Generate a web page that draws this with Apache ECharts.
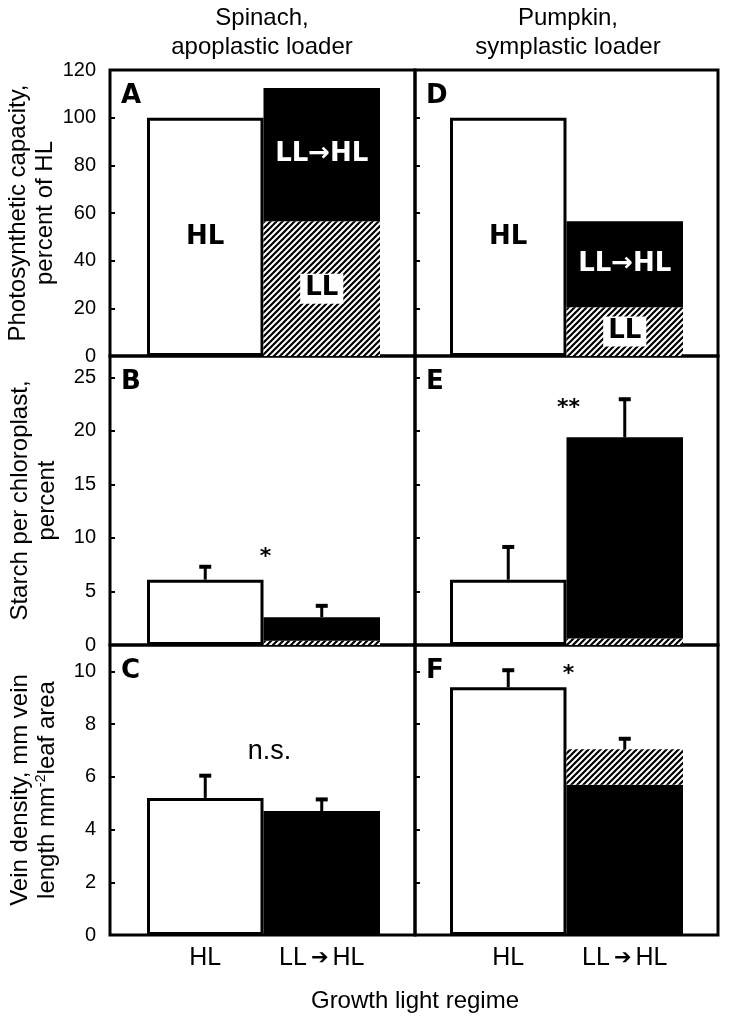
<!DOCTYPE html>
<html>
<head>
<meta charset="utf-8">
<script src="https://cdn.jsdelivr.net/npm/echarts@6/dist/echarts.min.js"></script>
<style>
  html, body { margin: 0; padding: 0; background: #fff; }
  #chart { width: 729px; height: 1020px; }
</style>
</head>
<body>
<div id="chart"></div>
<script>
// panels in order A, B, C (spinach) then D, E, F (pumpkin)
const categories = ['HL', 'LL→HL'];
const panelLetters = ['A', 'B', 'C', 'D', 'E', 'F'];
const hlValues = [100, 6.1, 5.2, 100, 6.1, 9.4];
const hlErrors = [null, 7.45, 6.1, null, 9.3, 10.1];
const llBase = [56.5, 0.4, 0, 20.5, 0.6, 0];          // hatched part at the base of LL→HL bar
const blackTop = [112.5, 2.6, 4.7, 56.5, 19.4, 5.7];  // top of the black part
const shiftTotals = [112.5, 2.6, 4.7, 56.5, 19.4, 7.05]; // top of the whole LL→HL bar
const shiftErrors = [null, 3.8, 5.2, null, 23.1, 7.5];
const sigLabels = ['', '*', 'n.s.', '', '**', '*'];
const sigValues = [null, 8.2, 6.95, null, 22.1, 9.9];
const yMax = [120, 27, 11];
const yInterval = [20, 5, 2];
const yTitles = [
  'Photosynthetic capacity,\npercent of HL',
  'Starch per chloroplast,\npercent',
  'Vein density, mm vein\nlength mm{sup|-2}leaf area'
];
const columnTitles = ['Spinach,\napoplastic loader', 'Pumpkin,\nsymplastic loader'];
const xTitle = 'Growth light regime';

// layout (px)
const colLeft = [110, 415];
const colWidth = [305, 303];
const barInset = [37, 35];
const barAreaWidth = 233;
const rowTop = [70, 356, 645];
const rowHeight = [286, 289, 290];

const SANS = '"Liberation Sans", Arial, sans-serif';
const BOLD = '"DejaVu Sans", Verdana, sans-serif';

function makeHatch() {
  const s = 6;
  const c = document.createElement('canvas');
  c.width = s;
  c.height = s;
  const ctx = c.getContext('2d');
  ctx.fillStyle = '#fff';
  ctx.fillRect(0, 0, s, s);
  ctx.strokeStyle = '#000';
  ctx.lineWidth = 2.2;
  ctx.beginPath();
  ctx.moveTo(0, s); ctx.lineTo(s, 0);
  ctx.moveTo(-s / 2, s / 2); ctx.lineTo(s / 2, -s / 2);
  ctx.moveTo(s / 2, s * 1.5); ctx.lineTo(s * 1.5, s / 2);
  ctx.stroke();
  return c;
}
const hatch = { image: makeHatch(), repeat: 'repeat' };

const grid = [];
const xAxis = [];
const yAxis = [];
const series = [];
const title = [];

// frames
for (let i = 0; i < 6; i++) {
  const col = Math.floor(i / 3);
  const row = i % 3;
  grid.push({
    left: colLeft[col], top: rowTop[row], width: colWidth[col], height: rowHeight[row],
    show: true, borderColor: '#000', borderWidth: 3, backgroundColor: 'transparent',
    outerBoundsMode: 'none'
  });
  xAxis.push({ gridIndex: i, type: 'value', show: false });
  yAxis.push({ gridIndex: i, type: 'value', show: false });
}

// bar panels
for (let i = 0; i < 6; i++) {
  const col = Math.floor(i / 3);
  const row = i % 3;
  const g = 6 + i;
  const top = row === 0;

  grid.push({
    left: colLeft[col] + barInset[col], top: rowTop[row], width: barAreaWidth, height: rowHeight[row],
    outerBoundsMode: 'none'
  });
  xAxis.push({
    gridIndex: g, type: 'category', data: categories,
    axisLine: { show: false }, axisTick: { show: false },
    axisLabel: {
      show: row === 2, interval: 0, hideOverlap: false,
      margin: 11, fontSize: 25, color: '#000', fontFamily: SANS,
      formatter: (v) => v.replace('→', '{arr|➔}'),
      rich: { arr: { fontFamily: BOLD, fontWeight: 'bold', fontSize: 21, color: '#000', padding: [0, 4] } }
    }
  });
  yAxis.push({
    gridIndex: g, type: 'value', min: 0, max: yMax[row], interval: yInterval[row],
    offset: barInset[col],
    axisLine: { show: false },
    axisTick: { show: true, inside: true, length: 5, lineStyle: { color: '#000', width: 2 } },
    splitLine: { show: false },
    axisLabel: {
      show: col === 0, showMaxLabel: yMax[row] % yInterval[row] === 0,
      margin: 14, fontSize: 20, color: '#000', fontFamily: SANS
    },
    name: col === 0 ? yTitles[row] : '',
    nameLocation: 'middle', nameGap: 49,
    nameTextStyle: {
      fontSize: 24, color: '#000', fontFamily: SANS, lineHeight: 27,
      rich: { sup: { fontSize: 14, color: '#000', fontFamily: SANS, verticalAlign: 'top', lineHeight: 14 } }
    }
  });

  const common = {
    type: 'bar', xAxisIndex: g, yAxisIndex: g, stack: 'p' + i,
    barCategoryGap: '0%', animation: false, silent: true
  };
  const inLabel = (text, color, extra) => Object.assign({
    show: top, position: 'inside', formatter: text, color: color,
    fontFamily: BOLD, fontWeight: 'bold', fontSize: 26
  }, extra || {});

  series.push(Object.assign({}, common, {
    name: 'HL',
    data: [hlValues[i], '-'],
    itemStyle: { color: '#fff', borderColor: '#000', borderWidth: 3 },
    label: inLabel('HL', '#000')
  }));
  series.push(Object.assign({}, common, {
    name: 'LL',
    data: ['-', llBase[i]],
    itemStyle: { color: hatch },
    label: inLabel('LL', '#000', { backgroundColor: '#fff', padding: [3, 5, 1, 5] })
  }));
  series.push(Object.assign({}, common, {
    name: 'LL→HL',
    data: ['-', blackTop[i] - llBase[i]],
    itemStyle: { color: '#000' },
    label: inLabel('LL→HL', '#fff')
  }));
  series.push(Object.assign({}, common, {
    name: 'LL (upper)',
    data: ['-', shiftTotals[i] - blackTop[i]],
    itemStyle: { color: hatch }
  }));

  const errData = [];
  if (hlErrors[i] != null) errData.push([0, hlValues[i], hlErrors[i]]);
  if (shiftErrors[i] != null) errData.push([1, shiftTotals[i], shiftErrors[i]]);
  if (errData.length) {
    series.push({
      type: 'custom', xAxisIndex: g, yAxisIndex: g, z: 5, animation: false, silent: true,
      data: errData,
      encode: { x: 0, y: [1, 2] },
      renderItem: (params, api) => {
        const base = api.coord([api.value(0), api.value(1)]);
        const tip = api.coord([api.value(0), api.value(2)]);
        return {
          type: 'group',
          children: [
            { type: 'line', shape: { x1: base[0], y1: base[1], x2: tip[0], y2: tip[1] },
              style: { stroke: '#000', lineWidth: 3 } },
            { type: 'line', shape: { x1: tip[0] - 6, y1: tip[1] + 1.5, x2: tip[0] + 6, y2: tip[1] + 1.5 },
              style: { stroke: '#000', lineWidth: 4 } }
          ]
        };
      }
    });
  }

  if (sigLabels[i]) {
    const text = sigLabels[i];
    const isStar = text.indexOf('*') >= 0;
    series.push({
      type: 'custom', xAxisIndex: g, yAxisIndex: g, z: 5, animation: false, silent: true,
      data: [[0, sigValues[i]]],
      encode: { x: 0, y: 1 },
      renderItem: (params, api) => {
        const p = api.coord([0, api.value(1)]);
        const half = api.size([1, 0])[0] / 2;
        return {
          type: 'text', x: p[0] + half + (isStar ? 2 : 6), y: p[1],
          style: {
            text: text, fill: '#000', align: 'center', verticalAlign: 'middle',
            fontFamily: isStar ? BOLD : SANS, fontWeight: isStar ? 'bold' : 'normal',
            fontSize: isStar ? 22 : 27
          }
        };
      }
    });
  }

  title.push({
    text: panelLetters[i], left: colLeft[col] + 11, top: rowTop[row] + 13, padding: 0,
    textStyle: { fontFamily: BOLD, fontWeight: 'bold', fontSize: 26, color: '#000' }
  });
}

title.push({
  text: columnTitles[0], left: 262, top: 4, textAlign: 'center', padding: 0,
  textStyle: { fontFamily: SANS, fontWeight: 'normal', fontSize: 24, lineHeight: 29, color: '#000' }
});
title.push({
  text: columnTitles[1], left: 568, top: 4, textAlign: 'center', padding: 0,
  textStyle: { fontFamily: SANS, fontWeight: 'normal', fontSize: 24, lineHeight: 29, color: '#000' }
});
title.push({
  text: xTitle, left: 415, top: 989, textAlign: 'center', padding: 0,
  textStyle: { fontFamily: SANS, fontWeight: 'normal', fontSize: 24, color: '#000' }
});

const chart = echarts.init(document.getElementById('chart'), null, { renderer: 'canvas' });
chart.setOption({
  animation: false,
  backgroundColor: '#fff',
  title: title,
  grid: grid,
  xAxis: xAxis,
  yAxis: yAxis,
  series: series
});
</script>
</body>
</html>
